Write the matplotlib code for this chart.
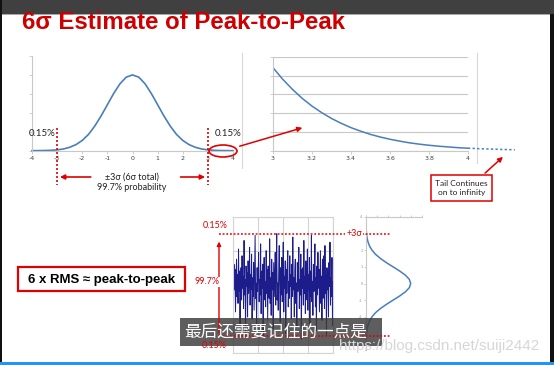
import matplotlib
matplotlib.use("Agg")
import matplotlib.pyplot as plt
import matplotlib.transforms as mtransforms
from matplotlib.patches import Ellipse, Rectangle

plt.rcParams["axes.unicode_minus"] = False

# slide: 6 sigma estimate of peak-to-peak
W, H = 554, 365

# normal curve (x in sigma, y = density)
bell_x = [-4.0, -3.75, -3.5, -3.25, -3.0, -2.75, -2.5, -2.25, -2.0, -1.75, -1.5, -1.25, -1.0,
          -0.75, -0.5, -0.25, 0.0, 0.25, 0.5, 0.75, 1.0, 1.25, 1.5, 1.75, 2.0, 2.25, 2.5,
          2.75, 3.0, 3.25, 3.5, 3.75, 4.0]
bell_y = [0.0001, 0.0004, 0.0009, 0.002, 0.0044, 0.009, 0.018, 0.032, 0.054, 0.086, 0.130,
          0.183, 0.242, 0.301, 0.352, 0.387, 0.399, 0.387, 0.352, 0.301, 0.242, 0.183, 0.130,
          0.086, 0.054, 0.032, 0.018, 0.009, 0.0044, 0.002, 0.0009, 0.0004, 0.0001]
bell_ticks = [-4, -3, -2, -1, 0, 1, 2, 3, 4]
side_labels = ["", "", "-2", "-1", "0", "1", "2", "", "4"]

# tail zoom (3 sigma to 4 sigma), and the dotted part past the axis
tail_x = [3.0, 3.05, 3.1, 3.15, 3.2, 3.25, 3.3, 3.35, 3.4, 3.45, 3.5, 3.55, 3.6, 3.65, 3.7,
          3.75, 3.8, 3.85, 3.9, 3.95, 4.0]
tail_y = [0.00443, 0.00381, 0.00327, 0.00279, 0.00238, 0.00203, 0.00172, 0.00146, 0.00123,
          0.00104, 0.00087, 0.00073, 0.00061, 0.00051, 0.00042, 0.00035, 0.00029, 0.00024,
          0.00020, 0.00016, 0.000134]
tail_more_x = [4.0, 4.06, 4.12, 4.18, 4.24]
tail_more_y = [0.000134, 0.000105, 0.000085, 0.000065, 0.00005]
tail_ticks = [3, 3.2, 3.4, 3.6, 3.8, 4]
tail_labels = ["3", "3.2", "3.4", "3.6", "3.8", "4"]

# noise trace (in sigma units)
noise = [0.4, -0.8, 1.2, -0.3, 0.9, -1.6, 0.2, 1.5, -0.7, 0.6,
         -1.1, 2.1, -0.4, 0.8, -2.3, 0.1, 1.0, -0.9, 1.7, -0.2,
         0.5, -1.4, 2.6, -0.6, 0.3, -2.8, 1.1, -0.1, 0.7, -1.9,
         1.4, -0.5, 0.2, 2.2, -1.2, 0.6, -0.3, 1.8, -2.0, 0.4,
         -0.7, 1.3, -1.5, 0.9, 2.9, -0.8, 0.1, -2.4, 1.0, -0.4,
         0.6, 1.9, -1.0, 0.3, -0.6, 2.4, -1.7, 0.8, -0.2, 1.2,
         -3.1, 0.5, 1.6, -0.9, 0.2, -1.3, 2.0, -0.5, 0.9, -2.1,
         1.1, 0.0, -0.8, 2.7, -1.1, 0.4, -1.8, 1.5, -0.3, 0.7,
         -2.6, 1.3, 0.2, -0.7, 1.9, -1.2, 0.6, 3.0, -0.9, 0.1,
         -1.5, 0.8, 2.3, -0.4, -2.2, 1.0, -0.6, 1.6, -1.0, 0.3,
         2.5, -1.6, 0.5, -0.2, 1.4, -2.9, 0.9, -0.5, 1.1, 2.0,
         -1.3, 0.2, -0.8, 1.7, -0.1, 0.6, -2.0, 1.2, -0.7, 2.8,
         -0.3, 0.4, -1.9, 0.8, 1.5, -1.1, 0.1, -2.5, 1.3, -0.4,
         0.7, 2.2, -1.4, 0.3, -0.6, 1.8, -3.2, 0.9, -0.2, 1.0,
         -1.2, 2.6, -0.5, 0.5, -1.7, 1.4, 0.0, -0.9, 2.1, -1.5,
         0.6, -0.3, 1.6, -2.3, 0.8, -0.7, 2.9, -1.0, 0.2, -1.8,
         1.2, -0.4, 0.7, 2.4, -1.3, 0.4, -2.7, 1.1, -0.6, 1.9,
         -0.2, 0.9, -1.6, 0.3, 2.0, -1.1, 0.5, -2.1, 1.5, -0.8,
         0.1, 1.7, -1.4, 2.3, -0.5, 0.6, -3.0, 1.0, -0.3, 0.8,
         -1.9, 1.3, -0.1, 2.5, -1.2, 0.4, -0.7, 1.6, -2.4, 0.2]

RED = "#e00000"
BLUE = "#4a7ebb"
GRID = "#c8c8c8"
LABEL_FONT = ["Lato", "DejaVu Sans"]


def rect(x0, y0, x1, y1):
    return [x0 / W, 1 - y1 / H, (x1 - x0) / W, (y1 - y0) / H]


fig = plt.figure(figsize=(W / 100, H / 100), dpi=100)
fig.patch.set_facecolor("white")

bg = fig.add_axes([0, 0, 1, 1], zorder=0)
bg.set_xlim(0, W)
bg.set_ylim(H, 0)
bg.axis("off")

# frame of the slide
bg.add_patch(Rectangle((0, 0), W, 13.5, color="#404040", lw=0))
bg.add_patch(Rectangle((0, 13.5), W, 1.2, color="#a8a8a8", lw=0))
bg.add_patch(Rectangle((0, 0), 2, H, color="#111111", lw=0))
bg.add_patch(Rectangle((550, 14), 4, H, color="#111111", lw=0))
bg.add_patch(Rectangle((0, 362), W, 3, color="#2196f3", lw=0))
# chart-area borders
bg.plot([242, 242], [53, 168], color="#d8d8d8", lw=0.8)
bg.plot([477, 477], [53, 163], color="#d8d8d8", lw=0.8)

bg.text(22, 29, "6σ Estimate of Peak-to-Peak", color="#cc0000", fontsize=17.3,
        fontweight="bold", family=["Liberation Sans", "DejaVu Sans"], va="baseline")


def excel_axes(ax):
    for s in ax.spines.values():
        s.set_color(GRID)
        s.set_linewidth(0.8)
    ax.tick_params(colors=GRID, labelcolor="#404040", labelsize=4.5, length=2, width=0.6, pad=2)


# left: full normal curve
ax1 = fig.add_axes(rect(32, 55.7, 233, 150.7), zorder=1)
ax1.plot(bell_x, bell_y, color=BLUE, lw=1.2, clip_on=False)
ax1.set_xlim(-4, 4)
ax1.set_ylim(0, 0.5)
ax1.set_xticks(bell_ticks)
ax1.set_yticks([0, 0.1, 0.2, 0.3, 0.4, 0.5])
ax1.set_yticklabels([])
ax1.spines[["top", "right"]].set_visible(False)
excel_axes(ax1)

# right: tail from 3 to 4 sigma
ax2 = fig.add_axes(rect(273, 57, 468, 150.7), zorder=1)
ax2.plot(tail_x, tail_y, color=BLUE, lw=1.1)
ax2.plot(tail_more_x, tail_more_y, color=BLUE, lw=1.1, ls=(0, (1.5, 1.5)), clip_on=False)
ax2.set_xlim(3, 4)
ax2.set_ylim(0, 0.005)
ax2.set_xticks(tail_ticks)
ax2.set_xticklabels(tail_labels)
ax2.set_yticks([0, 0.001, 0.002, 0.003, 0.004, 0.005])
ax2.set_yticklabels([])
ax2.grid(axis="y", color=GRID, lw=0.8)
ax2.spines[["top", "right"]].set_visible(False)
excel_axes(ax2)

# bottom middle: noise trace
ax3 = fig.add_axes(rect(233, 216.7, 333, 352.7), zorder=1)
ax3.plot(range(len(noise)), noise, color="#1c1c8a", lw=0.7)
ax3.set_xlim(0, len(noise) - 1)
ax3.set_ylim(-4, 4)
ax3.set_xticks([0, 50, 100, 150, 199])
ax3.set_yticks([-4, -2, 0, 2, 4])
ax3.set_xticklabels([])
ax3.set_yticklabels([])
ax3.tick_params(length=0)
ax3.grid(color="#d4d4d4", lw=0.8)
for s in ax3.spines.values():
    s.set_color("#d4d4d4")

# bottom right: sideways distribution
ax4 = fig.add_axes(rect(366, 217, 422, 350), zorder=1)
ax4.plot(bell_y, bell_x, color=BLUE, lw=1.1)
ax4.set_xlim(0, 0.5)
ax4.set_ylim(-4, 4)
ax4.set_yticks(bell_ticks)
ax4.set_yticklabels(side_labels)
ax4.xaxis.tick_top()
ax4.set_xticks([0, 0.1, 0.2, 0.3, 0.4, 0.5])
ax4.set_xticklabels([])
ax4.spines[["bottom", "right"]].set_visible(False)
excel_axes(ax4)
ax4.tick_params(labelsize=2.5, labelcolor="#909090", length=1.5, pad=1)

# overlay for annotations
ov = fig.add_axes([0, 0, 1, 1], zorder=5)
ov.set_xlim(0, W)
ov.set_ylim(H, 0)
ov.axis("off")
ov.patch.set_alpha(0)

dots = (0, (1.2, 1.2))
t1 = mtransforms.blended_transform_factory(ax1.transData, ov.transData)
for xs in (-3, 3):
    ov.plot([xs, xs], [128, 185], transform=t1, color=RED, lw=1.2, ls=dots)
ov.text(42.5, 133, "0.15%", fontsize=7, family=LABEL_FONT, ha="center", va="center", color="#222222")
ov.text(228.5, 133, "0.15%", fontsize=7, family=LABEL_FONT, ha="center", va="center", color="#222222")
ov.annotate("", xy=(-3, 177), xytext=(-1.55, 177), xycoords=t1, textcoords=t1,
            arrowprops=dict(arrowstyle="-|>", color=RED, lw=1.2, mutation_scale=7))
ov.annotate("", xy=(3, 177), xytext=(1.8, 177), xycoords=t1, textcoords=t1,
            arrowprops=dict(arrowstyle="-|>", color=RED, lw=1.2, mutation_scale=7))
ov.text(132, 177, "±3σ (6σ total)", fontsize=6.5, family=LABEL_FONT, ha="center", va="center",
        color="#222222")
ov.text(132, 187.5, "99.7% probability", fontsize=6.5, family=LABEL_FONT, ha="center",
        va="center", color="#222222")

ov.add_patch(Ellipse((223, 151), 28, 12, fill=False, ec=RED, lw=1.2))
ov.annotate("", xy=(305, 127), xytext=(237, 147),
            arrowprops=dict(arrowstyle="-|>", color=RED, lw=1.1, mutation_scale=7))

ov.add_patch(Rectangle((431, 175), 61, 25.7, fill=False, ec=RED, lw=1.1))
ov.text(461.5, 187.8, "Tail Continues\non to infinity", fontsize=6, family=LABEL_FONT,
        ha="center", va="center", color="#222222", linespacing=1.3)
ov.annotate("", xy=(505, 155), xytext=(483, 175),
            arrowprops=dict(arrowstyle="-|>", color=RED, lw=1.1, mutation_scale=7))

ov.add_patch(Rectangle((18, 267), 167, 24, fill=False, ec=RED, lw=1.6))
ov.text(101.5, 279.5, "6 x RMS ≈ peak-to-peak", fontsize=9.5, fontweight="bold",
        family=["Liberation Sans", "DejaVu Sans"], ha="center", va="center", color="black")

# +/- 3 sigma lines across noise and distribution
t3 = mtransforms.blended_transform_factory(ov.transData, ax3.transData)
for ys in (3, -3):
    ov.plot([219, 391], [ys, ys], transform=t3, color=RED, lw=1.1, ls=dots)
ov.text(354, 3, "+3σ", transform=t3, fontsize=6.5, family=LABEL_FONT, ha="center", va="center",
        color=RED, bbox=dict(fc="white", ec="none", pad=0.6))
ov.annotate("", xy=(219, 2.7), xytext=(219, -3), xycoords=t3, textcoords=t3,
            arrowprops=dict(arrowstyle="-|>", color=RED, lw=1.0, mutation_scale=6))
ov.text(215, 225, "0.15%", fontsize=6.5, family=LABEL_FONT, ha="center", va="center", color=RED)
ov.text(207, 282, "99.7%", fontsize=6.5, family=LABEL_FONT, ha="center", va="center", color=RED,
        bbox=dict(fc="white", ec="none", pad=0.6), zorder=6)
ov.text(214, 345, "0.15%", fontsize=6.5, family=LABEL_FONT, ha="center", va="center", color=RED)

# video subtitle and watermark
ov.add_patch(Rectangle((180, 318), 202, 28, color="#3a3a3a", alpha=0.82, lw=0))
ov.text(276, 332, "最后还需要记住的一点是", fontsize=12, color="white",
        family=["Noto Sans CJK SC", "DejaVu Sans"], ha="center", va="center")
ov.text(439, 346, "https://blog.csdn.net/suiji2442", fontsize=11, color="#d6d6d6",
        family=["Liberation Sans", "DejaVu Sans"], ha="center", va="center")

fig.savefig("out.png", dpi=100)
